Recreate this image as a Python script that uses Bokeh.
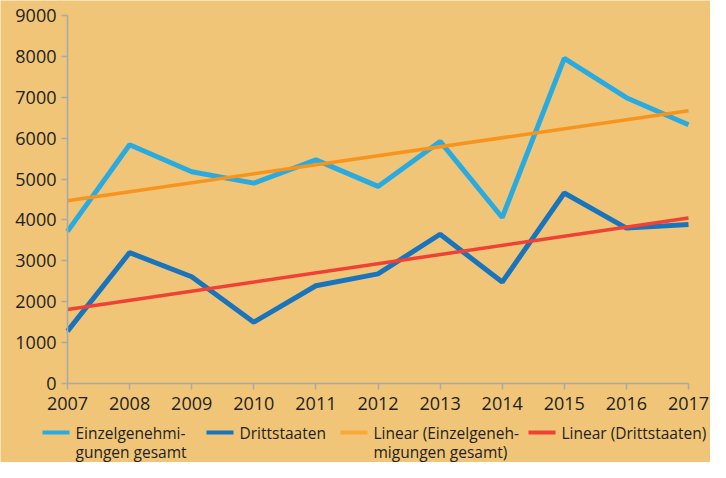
from bokeh.plotting import figure
from bokeh.models import Range1d, FixedTicker
from bokeh.core.properties import value
from bokeh.embed import file_html
from bokeh.resources import INLINE

years = [2007, 2008, 2009, 2010, 2011, 2012, 2013, 2014, 2015, 2016, 2017]
einzel = [3720, 5840, 5180, 4900, 5470, 4820, 5920, 4060, 7950, 6990, 6330]
dritt = [1280, 3200, 2610, 1500, 2390, 2680, 3650, 2480, 4660, 3800, 3890]
trend_years = [2007, 2017]
trend_einzel = [4470, 6670]
trend_dritt = [1810, 4050]
y_ticks = [0, 1000, 2000, 3000, 4000, 5000, 6000, 7000, 8000, 9000]

legend_labels = [
    ["Einzelgenehmi-", "gungen gesamt"],
    ["Drittstaaten"],
    ["Linear (Einzelgeneh-", "migungen gesamt)"],
    ["Linear (Drittstaaten)"],
]

BG = "#F0C577"
C_LB = "#29ABE2"
C_DB = "#1874BC"
C_OR = "#F7941D"
C_RD = "#EF4136"
AX = "#A7A9AC"
TXT = "#231F20"
FONT = "Open Sans"

W, H = 710, 462
# pixel positions of the axes inside the canvas
L, R, T, B = 67, 688, 15, 383
X0, X1 = 2007, 2017
Y0, Y1 = 0, 9000
xs_per_px = (X1 - X0) / (R - L)
ys_per_px = (Y1 - Y0) / (B - T)


def xd(px):
    return X0 + (px - L) * xs_per_px


def yd(py):
    return Y0 + (B - py) * ys_per_px


p = figure(width=W, height=H, output_backend="svg", toolbar_location=None,
           x_range=Range1d(xd(0), xd(W)), y_range=Range1d(yd(H), yd(0)),
           min_border=0)
p.background_fill_color = BG
p.border_fill_color = BG
p.outline_line_color = None
p.grid.visible = False

p.line(years, einzel, line_color=C_LB, line_width=5)
p.line(years, dritt, line_color=C_DB, line_width=5)
p.line(trend_years, trend_einzel, line_color=C_OR, line_width=3.5)
p.line(trend_years, trend_dritt, line_color=C_RD, line_width=3.5)

p.xaxis.ticker = FixedTicker(ticks=years)
p.yaxis.ticker = FixedTicker(ticks=y_ticks)
p.xaxis.fixed_location = Y0
p.yaxis.fixed_location = X0
p.xaxis.bounds = (X0, X1)
p.yaxis.bounds = (Y0, Y1)
for ax in (p.xaxis, p.yaxis):
    ax.axis_line_color = AX
    ax.axis_line_width = 1.5
    ax.major_tick_line_color = AX
    ax.major_tick_line_width = 1.5
    ax.major_tick_in = 0
    ax.major_tick_out = 6
    ax.minor_tick_line_color = None
    ax.major_label_text_font = FONT
    ax.major_label_text_font_size = "18px"
    ax.major_label_text_color = TXT
p.xaxis.major_label_standoff = 7
p.yaxis.major_label_standoff = 5

# legend below the axes
starts = [42, 206, 340, 528]
colors = [C_LB, C_DB, "#F9A83A", C_RD]
row1, row_gap = 432, 19
for x0, col, lines in zip(starts, colors, legend_labels):
    p.line([xd(x0), xd(x0 + 27)], [yd(row1), yd(row1)], line_color=col,
           line_width=4)
    for i, t in enumerate(lines):
        p.text([xd(x0 + 33)], [yd(row1 + row_gap * i)], text=[t],
               text_font=value(FONT), text_font_size="15.5px",
               text_color=TXT, text_baseline="middle")

open("out.html", "w").write(file_html(p, INLINE))
